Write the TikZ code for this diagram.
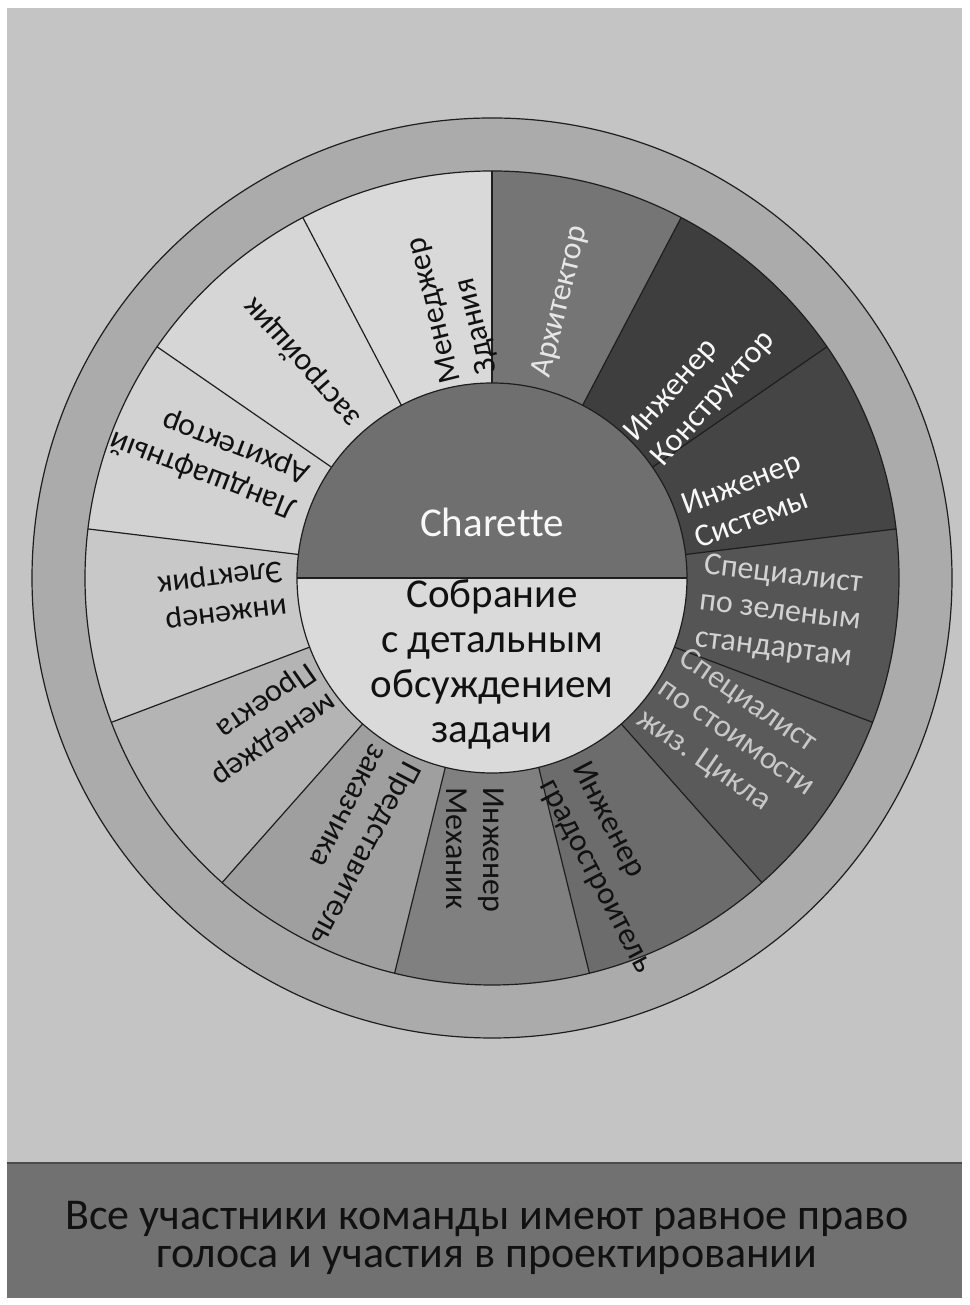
\documentclass[tikz,border=0pt]{standalone}
\usepackage{fontspec}
\setmainfont{Carlito}[Ligatures=NoCommon]
\definecolor{bgc}{HTML}{C4C4C4}
\definecolor{bandc}{HTML}{717171}
\definecolor{ringc}{HTML}{ABABAB}
\definecolor{linec}{HTML}{1E1E1E}
\definecolor{chartop}{HTML}{6F6F6F}
\definecolor{charbot}{HTML}{DADADA}
\definecolor{sA}{HTML}{757575}
\definecolor{sB}{HTML}{3E3E3E}
\definecolor{sC}{HTML}{454545}
\definecolor{sD}{HTML}{555555}
\definecolor{sE}{HTML}{5A5A5A}
\definecolor{sF}{HTML}{6C6C6C}
\definecolor{sG}{HTML}{808080}
\definecolor{sH}{HTML}{9F9F9F}
\definecolor{sI}{HTML}{B4B4B4}
\definecolor{sJ}{HTML}{C8C8C8}
\definecolor{sK}{HTML}{D2D2D2}
\definecolor{sL}{HTML}{D6D6D6}
\definecolor{sM}{HTML}{D9D9D9}
\definecolor{tlight}{HTML}{E6E6E6}
\definecolor{twhite}{HTML}{F8F8F8}
\definecolor{tgrayA}{HTML}{D2D2D2}
\definecolor{tgrayB}{HTML}{C8C8C8}
\definecolor{tdark}{HTML}{111111}
\begin{document}
\begin{tikzpicture}[x=1pt,y=1pt,
  seglabel/.style={align=left, inner sep=0pt, text=tdark, font=\fontsize{32}{37}\selectfont},
  segline/.style={draw=linec, line width=1.2pt},
  centertext/.style={inner sep=0pt, font=\fontsize{41}{45}\selectfont, align=center}]
\useasboundingbox (0,0) rectangle (969,1305);
\fill[white] (0,0) rectangle (969,1305);
\fill[bgc] (7,7) rectangle (962,1297);
\fill[bandc] (7,7) rectangle (962,142);
\draw[line width=1.6pt, draw=linec!80] (7,142) -- (962,142);
\node[inner sep=0pt, font=\fontsize{44}{38}\selectfont, align=center, text=tdark] (note) at (487,67)
  {Все участники команды имеют равное право\\голоса и участия в проектировании};
\begin{scope}[shift={(492,727)}]
  \draw[fill=ringc, segline] (0,0) circle[radius=460];
  \foreach \i/\c in {0/sA,1/sB,2/sC,3/sD,4/sE,5/sF,6/sG,7/sH,8/sI,9/sJ,10/sK,11/sL,12/sM}{
    \fill[\c] (0,0) -- ({90-\i*360/13}:407) arc[start angle={90-\i*360/13}, delta angle={-360/13}, radius=407] -- cycle;
  }
  \draw[segline] (0,0) circle[radius=407];
  \foreach \i in {0,...,12}{
    \draw[segline] ({90-\i*360/13}:195) -- ({90-\i*360/13}:407);
  }
  \fill[chartop] (195,0) arc[start angle=0, end angle=180, radius=195] -- cycle;
  \fill[charbot] (-195,0) arc[start angle=180, end angle=360, radius=195] -- cycle;
  \draw[segline] (0,0) circle[radius=195];
  \draw[segline] (-195,0) -- (195,0);
  \node[centertext, anchor=base, text=twhite] (charette) at (0,41) {Charette};
  \node[centertext, text=tdark] (meeting) at (0,-86) {Собрание\\с детальным\\обсуждением\\задачи};
  % segment labels
  \node[seglabel, text=tlight, rotate=76.15] (lA) at (69,276) {Архитектор};
  \node[seglabel, text=twhite, rotate=48.46] (lB) at (208,191) {Инженер\\Конструктор};
  \node[seglabel, text=twhite, rotate=20.77] (lC) at (256,78) {Инженер\\Системы};
  \node[seglabel, text=tgrayA, rotate=-6.92] (lD) at (288,-34) {Специалист\\по зеленым\\стандартам};
  \node[seglabel, text=tgrayB, rotate=-34.6] (lE) at (244,-160) {Специалист\\по стоимости\\жиз. Цикла};
  \node[seglabel, rotate=-62.3] (lF) at (120,-290) {Инженер\\градостроитель};
  \node[seglabel, rotate=-90] (lG) at (-17,-272) {Инженер\\Механик};
  \node[seglabel, rotate=-117.7] (lH) at (-142,-267) {Представитель\\заказчика};
  \node[seglabel, rotate=-145.4] (lI) at (-230,-144) {менеджер\\Проекта};
  \node[seglabel, rotate=-173.1] (lJ) at (-270,-15) {инженер\\Электрик};
  \node[seglabel, rotate=159.2] (lK) at (-282,121) {Ландшафтный\\Архитектор};
  \node[seglabel, rotate=131.5] (lL) at (-190,216) {застройщик};
  \node[seglabel, rotate=103.85] (lM) at (-39,272) {Менеджер\\Здания};
\end{scope}
\end{tikzpicture}
\end{document}
